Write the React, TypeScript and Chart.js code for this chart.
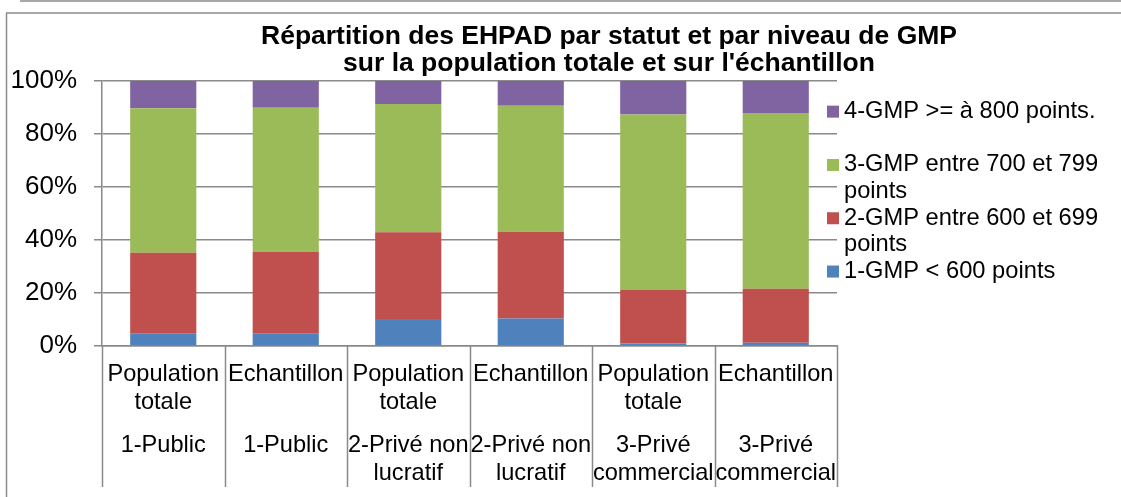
import React, { useEffect, useRef } from 'react';
import { Chart, registerables } from 'chart.js';

Chart.register(...registerables);

const FONT = "'Liberation Sans', Arial, sans-serif";

const titleLines = [
  'Répartition des EHPAD par statut et par niveau de GMP',
  "sur la population totale et sur l'échantillon",
];
const categories = [
  ['Population', 'totale'],
  'Echantillon',
  ['Population', 'totale'],
  'Echantillon',
  ['Population', 'totale'],
  'Echantillon',
];
const groups = [
  '1-Public',
  '1-Public',
  ['2-Privé non', 'lucratif'],
  ['2-Privé non', 'lucratif'],
  ['3-Privé', 'commercial'],
  ['3-Privé', 'commercial'],
];
const gmp1 = [4.8, 4.8, 10.2, 10.4, 0.9, 1.2];
const gmp2 = [30.4, 30.8, 32.7, 32.7, 20.2, 20.4];
const gmp3 = [54.5, 54.3, 48.4, 47.6, 66.3, 66.3];
const gmp4 = [10.3, 10.1, 8.7, 9.3, 12.6, 12.1];
const seriesLabels = [
  '1-GMP < 600 points',
  '2-GMP entre 600 et 699 points',
  '3-GMP entre 700 et 799 points',
  '4-GMP >= à 800 points.',
];
const legendLines = [
  ['1-GMP < 600 points'],
  ['2-GMP entre 600 et 699', 'points'],
  ['3-GMP entre 700 et 799', 'points'],
  ['4-GMP >= à 800 points.'],
];
const seriesColors = ['#4F81BD', '#C0504D', '#9BBB59', '#8064A2'];
const yTicks = [0, 20, 40, 60, 80, 100];

const GRID = '#8a8a8a';

const framePlugin = {
  id: 'frame',
  beforeDraw(chart: any) {
    const { ctx, width, height } = chart;
    ctx.save();
    ctx.strokeStyle = '#8c8c8c';
    ctx.lineWidth = 1.5;
    ctx.beginPath();
    ctx.moveTo(20, 1);
    ctx.lineTo(width, 1);
    ctx.moveTo(6, 13);
    ctx.lineTo(width, 13);
    ctx.moveTo(6.5, 13);
    ctx.lineTo(6.5, height);
    ctx.stroke();
    ctx.restore();
  },
};

const titleShiftPlugin = {
  id: 'titleShift',
  afterLayout(chart: any) {
    const tb = chart.titleBlock;
    if (tb) {
      tb.left = chart.chartArea.left;
      tb.right = chart.width - 5;
    }
  },
};

const separatorPlugin = {
  id: 'separators',
  afterDraw(chart: any) {
    const xs = chart.scales.x;
    const x2 = chart.scales.x2;
    const n = categories.length;
    const step = xs.getPixelForValue(1) - xs.getPixelForValue(0);
    const { ctx } = chart;
    ctx.save();
    ctx.strokeStyle = GRID;
    ctx.lineWidth = 1.5;
    ctx.beginPath();
    for (let i = 0; i <= n; i++) {
      const px = Math.round(xs.getPixelForValue(0) - step / 2 + i * step) + 0.5;
      ctx.moveTo(px, chart.chartArea.bottom);
      ctx.lineTo(px, x2.bottom);
    }
    ctx.stroke();
    ctx.restore();
  },
};

const sideLegendPlugin = {
  id: 'sideLegend',
  afterDraw(chart: any) {
    const { ctx, chartArea } = chart;
    const boxX = chartArea.right - 10;
    const textX = boxX + 17;
    const lineH = 26.7;
    const itemH = 53.3;
    const y0 = chartArea.top + 17.3;
    ctx.save();
    ctx.font = `23.7px ${FONT}`;
    ctx.textBaseline = 'middle';
    ctx.textAlign = 'left';
    const order = [3, 2, 1, 0];
    order.forEach((di, k) => {
      const ds = chart.data.datasets[di];
      const cy = y0 + k * itemH + lineH / 2;
      ctx.fillStyle = ds.backgroundColor;
      ctx.fillRect(boxX, cy - 6, 12, 12);
      ctx.fillStyle = '#000';
      legendLines[di].forEach((ln, j) => ctx.fillText(ln, textX, cy + j * lineH));
    });
    ctx.restore();
  },
};

export default function App() {
  const ref = useRef<HTMLCanvasElement | null>(null);

  useEffect(() => {
    if (!ref.current) return;
    const series = [gmp1, gmp2, gmp3, gmp4];
    const chart = new Chart(ref.current, {
      type: 'bar',
      data: {
        labels: categories as any,
        datasets: series.map((d, i) => ({
          label: seriesLabels[i],
          data: d,
          backgroundColor: seriesColors[i],
          borderWidth: 0,
          barPercentage: 0.54,
          categoryPercentage: 1,
          xAxisID: 'x',
          yAxisID: 'y',
        })),
      },
      options: {
        responsive: false,
        animation: false,
        layout: { padding: { left: 10.5, right: 284, top: 0, bottom: 10 } },
        plugins: {
          legend: { display: false },
          tooltip: { enabled: false },
          title: {
            display: true,
            text: titleLines,
            color: '#000',
            font: { family: FONT, size: 26.5, weight: 'bold', lineHeight: '27px' },
            padding: { top: 23, bottom: 4 },
          },
        },
        scales: {
          x: {
            type: 'category',
            stacked: true,
            offset: true,
            weight: 0,
            grid: { display: false, drawTicks: false },
            border: { display: true, color: GRID, width: 1.5 },
            ticks: {
              color: '#000',
              font: { family: FONT, size: 23.6, lineHeight: '27.5px' },
              padding: 15,
              maxRotation: 0,
              autoSkip: false,
            },
            afterFit: (scale: any) => {
              scale.height = 70;
            },
          },
          x2: {
            type: 'category',
            position: 'bottom',
            labels: groups as any,
            offset: true,
            weight: 1,
            grid: { display: false, drawTicks: false },
            border: { display: false },
            ticks: {
              color: '#000',
              font: { family: FONT, size: 23.6, lineHeight: '27.5px' },
              padding: 16,
              maxRotation: 0,
              autoSkip: false,
            },
            afterFit: (scale: any) => {
              scale.height = 71;
            },
          },
          y: {
            stacked: true,
            min: 0,
            max: 100,
            afterBuildTicks: (scale: any) => {
              scale.ticks = yTicks.map((v) => ({ value: v }));
            },
            afterFit: (scale: any) => {
              scale.width = 91.5;
            },
            grid: { color: GRID, lineWidth: 1.5, tickLength: 8, drawTicks: true },
            border: { display: true, color: GRID, width: 1.5 },
            ticks: {
              color: '#000',
              font: { family: FONT, size: 26 },
              padding: 17,
              callback: (v: any) => v + '%',
            },
          },
        },
      },
      plugins: [framePlugin, titleShiftPlugin, separatorPlugin, sideLegendPlugin],
    } as any);
    return () => chart.destroy();
  }, []);

  return (
    <div style={{ position: 'absolute', left: 0, top: 0, width: 1121, height: 497, background: '#fff' }}>
      <canvas ref={ref} width={1121} height={497} style={{ display: 'block' }} />
    </div>
  );
}
